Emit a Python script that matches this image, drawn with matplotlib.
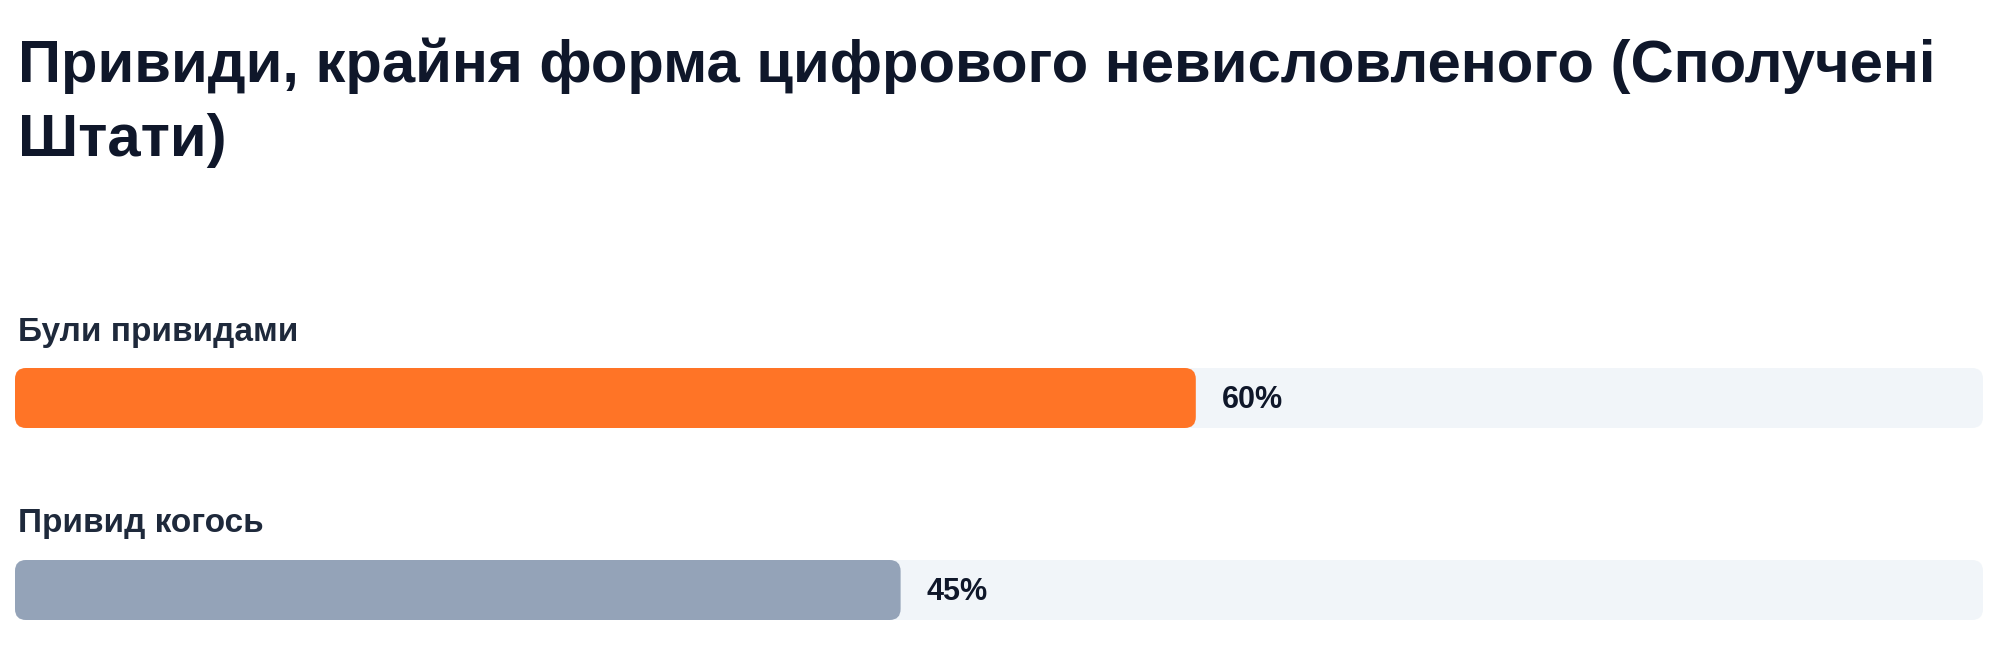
import matplotlib
matplotlib.use("Agg")
from matplotlib import pyplot as plt
from matplotlib.patches import FancyBboxPatch

title = "Привиди, крайня форма цифрового невисловленого (Сполучені\nШтати)"
labels = ["Були привидами", "Привид когось"]
values = [60, 45]
bar_colors = ["#FF7426", "#94A3B8"]

plt.rcParams['font.family'] = ['Liberation Sans', 'DejaVu Sans']

W, H = 2000, 668
fig = plt.figure(figsize=(20, 6.68), dpi=100)
fig.patch.set_facecolor("white")

# axes spanning the track width, y measured in pixels from the top
left, right = 15, 1983
ax = fig.add_axes([left / W, 0, (right - left) / W, 1])
ax.set_xlim(0, 100)
ax.set_ylim(H, 0)
ax.axis("off")

px_x = 100 / (right - left)   # x units per pixel
aspect = 1 / px_x
r = 11 * px_x
bar_h = 60
row_y = [368, 560]    # top of each bar
label_y = [341, 532]  # baseline of row labels

def rbox(x0, y0, w, h, color):
    p = FancyBboxPatch((x0, y0), w, h,
                       boxstyle=f"round,pad=0,rounding_size={r}",
                       mutation_aspect=aspect, fc=color, ec="none")
    ax.add_patch(p)

for lab, v, c, y, ly in zip(labels, values, bar_colors, row_y, label_y):
    rbox(0, y, 100, bar_h, "#F1F5F9")
    rbox(0, y, v, bar_h, c)
    ax.text(0.15, ly, lab, fontsize=24, fontweight="bold", color="#1E293B",
            va="baseline", ha="left")
    ax.text(v + 1.3, y + bar_h / 2 + 2, f"{v}%", fontsize=22, fontweight="bold",
            color="#0F172A", va="center", ha="left")

fig.text(18 / W, 1 - 37 / H, title, fontsize=43, fontweight="bold",
         color="#0F172A", va="top", ha="left", linespacing=1.45)

fig.savefig("out.png", dpi=100, facecolor="white")
